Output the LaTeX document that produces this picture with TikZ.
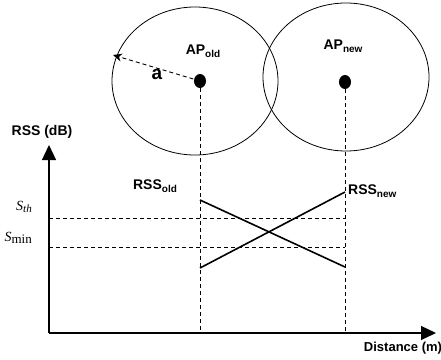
\documentclass[tikz,border=0pt]{standalone}
\usepackage{fontspec}
\setmainfont{Liberation Sans}
\newfontfamily\timesfont{Liberation Serif}
\usetikzlibrary{arrows.meta,positioning,calc}

\newcommand{\lowsub}[1]{\raisebox{-0.35ex}{\fontsize{10}{10}\selectfont #1}}

\begin{document}
\begin{tikzpicture}[x=1pt,y=-1pt,
  lab/.style={font=\fontsize{14}{16}\selectfont\bfseries, inner sep=0pt},
  guide/.style={dash pattern=on 4pt off 3pt, line width=0.9pt},
  sig/.style={line width=1.6pt},
  axis/.style={line width=1.2pt, -{Triangle[length=15pt,width=14pt]}}]
  \useasboundingbox (0,0) rectangle (441,359);
  % axes
  \coordinate (orig) at (49,333);
  \coordinate (ytip) at (49,145);
  \coordinate (xtip) at (436,333);
  \draw[axis] (orig) -- (ytip);
  \draw[axis] (orig) -- (xtip);
  \node[lab] (ylab) at (42,132) {RSS (dB)};
  \node[lab,font=\fontsize{13}{15}\selectfont\bfseries] (xlab) at (403,348) {Distance (m)};
  % access points and coverage
  \draw[line width=0.8pt] (195,81) ellipse [x radius=83, y radius=74];
  \draw[line width=0.8pt] (346,77) ellipse [x radius=83, y radius=74];
  \foreach \ap/\px/\py in {apold/200/81, apnew/345/82}{
    \fill (\px,\py) coordinate (\ap) ellipse [x radius=6, y radius=7];
    \coordinate (\ap base) at (\px,333);
    \draw[guide] (\ap) -- (\ap base);
  }
  \node[lab] (oldname) at (203,51) {AP\lowsub{old}};
  \node[lab] (newname) at (343,46) {AP\lowsub{new}};
  \coordinate (rim) at (113,55);
  \draw[guide,-{Stealth[length=9pt,width=8pt]}] (apold) -- (rim);
  \node[lab,font=\fontsize{19}{20}\selectfont\bfseries] (radius) at (157,74) {a};
  % thresholds
  \foreach \lvl/\yy in {th/218, min/247}{
    \coordinate (\lvl L) at (49,\yy);
    \coordinate (\lvl R) at (345,\yy);
    \draw[guide] (\lvl L) -- (\lvl R);
  }
  \node[anchor=east,inner sep=0pt,font=\timesfont\fontsize{14}{16}\selectfont] (sth) at (32,207)
    {\itshape S\raisebox{-0.4ex}{\fontsize{11}{11}\selectfont th}};
  \node[anchor=east,inner sep=0pt,font=\timesfont\fontsize{14}{16}\selectfont] (smin) at (32,238)
    {{\itshape S}\raisebox{-0.4ex}{\fontsize{13}{13}\selectfont min}};
  % signal strengths
  \coordinate (oldhi) at (200,200);
  \coordinate (oldlo) at (345,267);
  \coordinate (newlo) at (200,268);
  \coordinate (newhi) at (345,192);
  \draw[sig] (oldhi) -- (oldlo);
  \draw[sig] (newlo) -- (newhi);
  \node[lab] (rssold) at (155,186) {RSS\lowsub{old}};
  \node[lab,anchor=west] (rssnew) at (348,191) {RSS\lowsub{new}};
\end{tikzpicture}
\end{document}
